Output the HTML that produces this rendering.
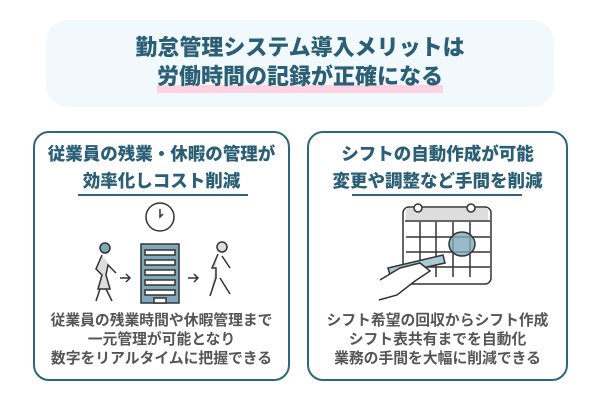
<!DOCTYPE html>
<html><head><meta charset="utf-8"><style>
body{margin:0;width:600px;height:400px;background:#fff;font-family:"Liberation Sans","Noto Sans CJK JP",sans-serif;position:relative;overflow:hidden}
.top{position:absolute;left:46px;top:20px;width:508px;height:87px;background:#f2f9fd;border-radius:22px}
.t{position:absolute;left:0;width:600px;text-align:center;color:#2a5f76;font-weight:900;white-space:nowrap}
.card{position:absolute;top:131px;width:257px;height:250px;border:2px solid #2e6680;border-radius:16px;box-sizing:border-box}
.ul{position:absolute;height:2px;background:#2e6680}
.b{position:absolute;text-align:center;color:#555;font-weight:bold;font-size:14.8px;line-height:19px;white-space:nowrap}
</style></head><body>
<div class="top"></div>
<div style="position:absolute;left:157px;top:85px;width:286px;height:8px;background:#fdd3e3"></div>
<div class="t" style="top:34px;font-size:22px;line-height:28px">勤怠管理システム導入メリットは</div>
<div class="t" style="top:63px;font-size:22px;line-height:28px">労働時間の記録が正確になる</div>

<div class="card" style="left:33px"></div>
<div class="card" style="left:307px;width:261px"></div>
<div class="t" style="left:33px;width:257px;top:141px;font-size:17.5px;line-height:27px">従業員の残業・休暇の管理が<br>効率化しコスト削減</div>
<div class="t" style="left:307px;width:261px;top:141px;font-size:17.5px;line-height:27px">シフトの自動作成が可能<br>変更や調整など手間を削減</div>
<div class="ul" style="left:78px;top:194px;width:170px"></div>
<div class="ul" style="left:352px;top:194px;width:170px"></div>

<svg style="position:absolute;left:0;top:0" width="600" height="400">
<g stroke="#333" stroke-width="1.5" fill="none">
<circle cx="160" cy="217" r="14" fill="#fff"/>
<path d="M160 209v8l3-3"/>
<rect x="141" y="244" width="38" height="59" fill="#7fa9bb"/>
<g fill="#fff"><rect x="145" y="250" width="30" height="5"/><rect x="145" y="260" width="30" height="5"/><rect x="145" y="270" width="30" height="5"/><rect x="145" y="280" width="30" height="5"/><rect x="145" y="290" width="30" height="5"/><rect x="154" y="298" width="12" height="5"/></g>
<path d="M120 278h10m-4-4l4 4-4 4M188 278h10m-4-4l4 4-4 4"/>
<circle cx="105" cy="248" r="5" fill="#7fa9bb"/>
<path d="M102 255l-6 14 6 6-4 14 12 0-4-14 2-10 8 8M100 289l-4 12M106 289l6 12" fill="#ddd"/>
<circle cx="222" cy="247" r="5" fill="#ddd"/>
<path d="M218 254l-6 14 4 0 0 10-6 18M220 278l10 16M222 256l8 12" fill="#ddd"/>
<rect x="403" y="207" width="88" height="77" rx="6" fill="#fff"/>
<rect x="406" y="208" width="82" height="12" fill="#ddd" stroke="none"/>
<path d="M405 221h85M420 222v55M436 222v55M453 222v55M470 222v55M406 237h84M406 252h84M406 267h84"/>
<circle cx="418" cy="208" r="4" fill="#fff"/><circle cx="471" cy="208" r="4" fill="#fff"/>
<ellipse cx="462" cy="244" rx="13" ry="12" fill="#7fa9bb" fill-opacity="0.8"/>
<path d="M388 268l55-13 2 8-55 12z" fill="#a9cbd8"/>
<path d="M380 280l20-12 20-5 10 8-15 10-18 14-18 5" fill="#fff"/>
</g>
</svg>

<div class="b" style="left:33px;width:257px;top:312px">従業員の残業時間や休暇管理まで<br>一元管理が可能となり<br>数字をリアルタイムに把握できる</div>
<div class="b" style="left:307px;width:261px;top:312px">シフト希望の回収からシフト作成<br>シフト表共有までを自動化<br>業務の手間を大幅に削減できる</div>
</body></html>
